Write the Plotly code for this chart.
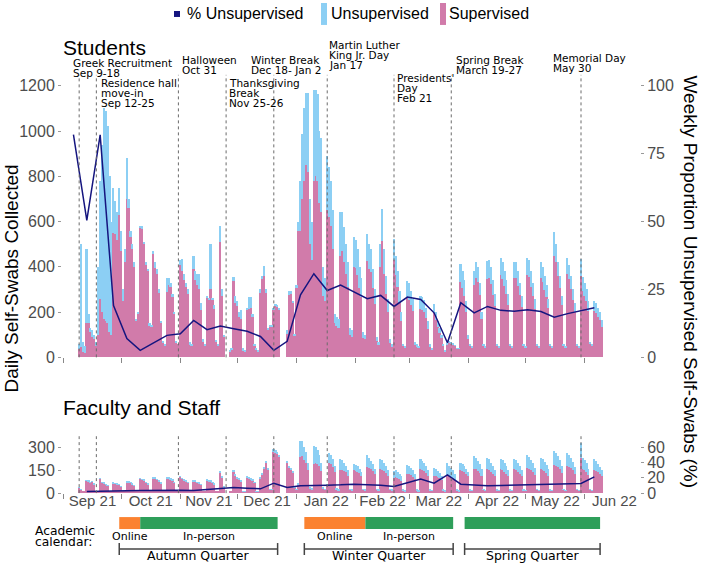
import plotly.graph_objects as go
import pandas as pd

# ---------------- data ----------------
DAY_FIRST = "2021-09-09"
DAY_LAST = "2022-06-10"
WEEK_FIRST = "2021-09-06"

# Students, daily, grouped by week (Mon..Sun); first week starts Thu Sep 9
STU_SUP = [
    [35, 45, 25, 20],
    [150, 150, 110, 90, 80, 50, 100],
    [260, 200, 170, 160, 150, 110, 100],
    [550, 545, 520, 630, 470, 250, 420],
    [700, 660, 530, 480, 400, 165, 190],
    [574, 565, 500, 410, 380, 140, 135],
    [455, 395, 370, 285, 150, 65, 55],
    [290, 320, 310, 265, 190, 65, 60],
    [410, 380, 340, 310, 280, 55, 50],
    [390, 340, 320, 300, 210, 70, 50],
    [265, 255, 300, 255, 215, 70, 55],
    [508, 270, 90, 0, 0, 28, 35],
    [339, 240, 225, 180, 170, 33, 25],
    [214, 215, 220, 180, 55, 35, 28],
    [285, 345, 360, 285, 125, 135, 135],
    [210, 230, 225, 214, 0, 0, 0],
    [105, 275, 280, 240, 95, 305, 560],
    [560, 700, 780, 850, 820, 500, 430],
    [780, 800, 780, 680, 640, 270, 250],
    [650, 620, 580, 480, 150, 140, 130],
    [450, 470, 420, 370, 310, 100, 90],
    [400, 395, 365, 305, 265, 85, 80],
    [425, 390, 375, 305, 235, 72, 56],
    [400, 515, 370, 280, 200, 62, 47],
    [430, 365, 310, 240, 160, 50, 40],
    [265, 255, 230, 205, 55, 47, 40],
    [212, 208, 200, 172, 126, 47, 31],
    [196, 167, 134, 109, 84, 50, 25],
    [57, 66, 61, 57, 52, 38, 38],
    [331, 305, 270, 200, 80, 48, 40],
    [320, 350, 335, 275, 168, 50, 42],
    [347, 350, 325, 276, 228, 49, 40],
    [365, 347, 314, 281, 232, 50, 41],
    [349, 349, 315, 274, 224, 50, 41],
    [364, 355, 313, 272, 214, 50, 41],
    [349, 332, 299, 266, 216, 50, 42],
    [450, 420, 358, 307, 230, 51, 43],
    [370, 344, 302, 252, 201, 50, 42],
    [359, 295, 273, 248, 207, 58, 50],
    [205, 196, 180, 163, 134],
]
STU_UNS = [
    [25, 455, 45, 30],
    [330, 40, 20, 30, 20, 20, 300],
    [520, 740, 930, 930, 870, 690, 500],
    [200, 145, 120, 120, 90, 50, 60],
    [180, 40, 30, 20, 20, 5, 10],
    [6, 15, 10, 10, 10, 10, 5],
    [15, 25, 20, 15, 10, 5, 5],
    [60, 30, 20, 15, 10, 5, 0],
    [20, 55, 30, 20, 20, 15, 10],
    [60, 40, 48, 68, 30, 10, 10],
    [5, 5, 200, 5, 15, 5, 5],
    [74, 30, 10, 0, 0, 2, 5],
    [15, 30, 25, 20, 40, 7, 5],
    [6, 50, 45, 10, 5, 5, 2],
    [15, 15, 45, 15, 5, 5, 5],
    [5, 7, 5, 6, 0, 0, 0],
    [15, 17, 12, 10, 5, 15, 40],
    [220, 285, 320, 320, 350, 200, 170],
    [400, 380, 385, 320, 330, 130, 100],
    [240, 220, 200, 170, 40, 40, 40],
    [191, 171, 154, 130, 110, 30, 30],
    [130, 125, 115, 95, 85, 25, 20],
    [120, 110, 105, 85, 65, 18, 14],
    [100, 140, 110, 80, 60, 18, 13],
    [93, 85, 70, 55, 40, 10, 10],
    [74, 75, 65, 55, 15, 13, 10],
    [58, 57, 55, 48, 34, 13, 9],
    [38, 33, 26, 21, 16, 10, 5],
    [3, 4, 4, 3, 3, 2, 2],
    [81, 75, 70, 50, 20, 12, 10],
    [63, 70, 65, 55, 32, 10, 8],
    [80, 80, 75, 64, 52, 11, 10],
    [76, 73, 66, 59, 48, 10, 9],
    [71, 71, 65, 56, 46, 10, 9],
    [77, 75, 67, 58, 46, 10, 9],
    [71, 68, 61, 54, 44, 10, 8],
    [102, 80, 62, 53, 40, 9, 7],
    [71, 66, 58, 48, 39, 10, 8],
    [75, 62, 57, 52, 43, 12, 10],
    [46, 44, 40, 37, 29],
]
# Faculty and staff, daily, same layout
FAC_SUP = [
    [35, 24, 8, 6],
    [78, 76, 68, 73, 58, 10, 8],
    [93, 68, 63, 53, 47, 10, 8],
    [63, 61, 58, 53, 44, 8, 6],
    [71, 69, 68, 58, 48, 8, 6],
    [92, 86, 82, 67, 58, 10, 8],
    [95, 93, 86, 77, 62, 10, 8],
    [97, 95, 88, 81, 67, 10, 8],
    [104, 91, 84, 77, 67, 10, 8],
    [77, 75, 67, 62, 53, 8, 6],
    [81, 76, 74, 67, 57, 10, 8],
    [135, 102, 38, 0, 0, 8, 10],
    [138, 111, 97, 88, 75, 11, 9],
    [102, 93, 88, 79, 66, 11, 9],
    [94, 122, 160, 198, 151, 19, 19],
    [270, 262, 253, 235, 0, 0, 0],
    [195, 168, 150, 131, 37, 19, 56],
    [235, 240, 215, 200, 150, 30, 22],
    [190, 200, 190, 175, 145, 26, 20],
    [45, 200, 190, 170, 140, 24, 16],
    [150, 150, 145, 135, 115, 20, 16],
    [148, 145, 140, 130, 115, 20, 16],
    [170, 165, 155, 142, 122, 20, 16],
    [157, 152, 145, 133, 113, 20, 16],
    [102, 108, 102, 92, 82, 16, 12],
    [124, 122, 117, 108, 92, 16, 12],
    [157, 150, 142, 130, 113, 18, 14],
    [113, 110, 105, 96, 86, 16, 12],
    [117, 112, 105, 97, 84, 16, 12],
    [148, 146, 137, 127, 109, 18, 13],
    [160, 155, 145, 133, 115, 20, 14],
    [155, 150, 140, 128, 110, 18, 13],
    [155, 150, 140, 128, 110, 18, 13],
    [155, 150, 140, 128, 110, 18, 13],
    [165, 160, 150, 138, 120, 19, 14],
    [158, 153, 145, 133, 113, 18, 13],
    [185, 178, 168, 155, 132, 20, 14],
    [178, 172, 162, 148, 125, 20, 14],
    [230, 160, 152, 140, 118, 20, 14],
    [150, 145, 135, 125, 112],
]
FAC_UNS = [
    [2, 1, 0, 0],
    [2, 2, 2, 2, 2, 0, 0],
    [3, 2, 2, 2, 1, 0, 0],
    [2, 2, 2, 2, 1, 0, 0],
    [3, 3, 2, 2, 2, 0, 0],
    [4, 4, 3, 3, 2, 0, 0],
    [5, 5, 4, 3, 3, 0, 0],
    [5, 5, 4, 4, 3, 0, 0],
    [5, 4, 4, 3, 3, 0, 0],
    [3, 3, 3, 3, 2, 0, 0],
    [4, 4, 4, 3, 3, 0, 0],
    [11, 8, 2, 0, 0, 0, 0],
    [12, 9, 8, 7, 5, 1, 1],
    [8, 7, 7, 6, 4, 1, 1],
    [6, 8, 10, 12, 9, 1, 1],
    [20, 18, 17, 15, 0, 0, 0],
    [15, 12, 10, 9, 3, 1, 4],
    [106, 101, 85, 70, 50, 10, 8],
    [119, 100, 90, 75, 55, 9, 5],
    [15, 65, 60, 50, 40, 6, 4],
    [72, 65, 55, 45, 35, 5, 4],
    [41, 40, 35, 30, 25, 5, 4],
    [77, 65, 55, 48, 38, 5, 4],
    [69, 63, 55, 47, 37, 5, 4],
    [44, 42, 38, 33, 28, 4, 3],
    [59, 53, 48, 42, 33, 4, 3],
    [69, 60, 53, 45, 37, 4, 4],
    [48, 45, 40, 34, 29, 4, 3],
    [77, 68, 60, 53, 41, 4, 3],
    [46, 44, 38, 33, 26, 4, 3],
    [83, 75, 65, 57, 45, 5, 4],
    [75, 70, 60, 52, 40, 4, 3],
    [71, 65, 60, 52, 40, 4, 3],
    [71, 65, 60, 52, 40, 4, 3],
    [82, 75, 65, 57, 45, 5, 4],
    [74, 67, 60, 52, 42, 4, 3],
    [91, 82, 72, 60, 48, 5, 4],
    [87, 78, 68, 57, 45, 5, 4],
    [100, 70, 63, 55, 42, 5, 4],
    [72, 65, 55, 45, 38],
]

# Weekly proportion unsupervised (%), one value per week (week starting Monday)
STU_PCT = [82, 50.4, 81.9, 19.1, 6.9, 2.6, 5.3, 8.1, 8.7, 13.6, 10.2, 11.5, 10.5, 9.6,
           7.7, 2.6, 5.9, 23.0, 30.8, 24.6, 26.6, 24.0, 21.6, 22.8, 18.75, 22.2, 21.3,
           16.4, 5.4, 20.1, 16.4, 18.75, 17.3, 17.0, 17.5, 16.9, 14.8, 16.1, 17.3, 18.3]
FAC_PCT = [2.2, 2.2, 2.6, 3.0, 3.5, 3.9, 3.9, 3.9, 3.5, 4.8, 6.5, 7.4, 6.5, 5.6, 13.0,
           7.5, 9.6, 10.4, 10.4, 10.8, 11.7, 10.9, 10.4, 8.7, 13.5, 18.3, 13.0, 23.9,
           11.7, 10.4, 9.6, 10.0, 10.4, 10.9, 11.3, 11.7, 11.9, 12.6, 21.3]
FAC_PCT_FIRST_WEEK = "2021-09-13"

# Events
EVENT_DATES = ["2021-09-09", "2021-09-18", "2021-10-31", "2021-11-25", "2021-12-20",
               "2022-01-17", "2022-02-21", "2022-03-23", "2022-05-30"]
EVENT_LABELS = [
    ["Greek Recruitment", "Sep 9-18"],
    ["Residence hall", "move-in", "Sep 12-25"],
    ["Halloween", "Oct 31"],
    ["Thanksgiving", "Break", "Nov 25-26"],
    ["Winter Break", "Dec 18- Jan 2"],
    ["Martin Luther", "King Jr. Day", "Jan 17"],
    ["Presidents'", "Day", "Feb 21"],
    ["Spring Break", "March 19-27"],
    ["Memorial Day", "May 30"],
]
# label placement (left pixel, top-line pixel)
EVENT_LABEL_POS = [(71, 63), (98.5, 83.5), (180, 60), (227, 83.5), (248.5, 60),
                   (326.5, 45), (394.5, 78.5), (453.5, 60.5), (551, 58)]

# Academic calendar
CAL_START = ["2021-09-30", "2021-10-11", "2022-01-05", "2022-02-06", "2022-03-30"]
CAL_END = ["2021-10-11", "2021-12-22", "2022-02-06", "2022-03-24", "2022-06-09"]
CAL_MODE = ["Online", "In-person", "Online", "In-person", "In-person"]
CAL_SHOW_LABEL = [True, True, True, True, False]
QUARTERS = ["Autumn Quarter", "Winter Quarter", "Spring Quarter"]
Q_START = ["2021-09-30", "2022-01-05", "2022-03-30"]
Q_END = ["2021-12-22", "2022-03-24", "2022-06-09"]

# ---------------- styling ----------------
PINK = "#D17BAA"
BLUE = "#8CCFF4"
NAVY = "#15157F"
ORANGE = "#FB8230"
GREEN = "#2E9F5A"
TICKGREY = "#4D4D4D"
SANS = "Liberation Sans, Arial, sans-serif"
VERD = "DejaVu Sans, Verdana, sans-serif"

W, H = 702, 563          # reference pixel frame
H_LAYOUT = 571           # page height used by the browser frame
ML, MR = 62, 62


def px(x):
    return (x - ML) / (W - ML - MR)


def py(y):
    return 1 - y / H


def flat(weeks):
    return [v for wk in weeks for v in wk]


days = pd.date_range(DAY_FIRST, DAY_LAST, freq="D")
weeks_stu = pd.date_range(WEEK_FIRST, periods=len(STU_PCT), freq="7D")
weeks_fac = pd.date_range(FAC_PCT_FIRST_WEEK, periods=len(FAC_PCT), freq="7D")

X_RANGE = ["2021-08-31", "2022-06-29 22:00"]

fig = go.Figure()
fig.add_trace(go.Bar(x=days, y=flat(STU_SUP), marker=dict(color=PINK, line=dict(width=0)),
                     name="Supervised", xaxis="x", yaxis="y", showlegend=False))
fig.add_trace(go.Bar(x=days, y=flat(STU_UNS), marker=dict(color=BLUE, line=dict(width=0)),
                     name="Unsupervised", xaxis="x", yaxis="y", showlegend=False))
fig.add_trace(go.Scatter(x=weeks_stu, y=STU_PCT, mode="lines", line=dict(color=NAVY, width=1.5),
                         name="% Unsupervised", xaxis="x", yaxis="y3", showlegend=False))
fig.add_trace(go.Bar(x=days, y=flat(FAC_SUP), marker=dict(color=PINK, line=dict(width=0)),
                     xaxis="x2", yaxis="y2", showlegend=False))
fig.add_trace(go.Bar(x=days, y=flat(FAC_UNS), marker=dict(color=BLUE, line=dict(width=0)),
                     xaxis="x2", yaxis="y2", showlegend=False))
fig.add_trace(go.Scatter(x=weeks_fac, y=FAC_PCT, mode="lines", line=dict(color=NAVY, width=1.5),
                         xaxis="x2", yaxis="y4", showlegend=False))

tickfont = dict(family=SANS, size=16, color=TICKGREY)
xcommon = dict(range=X_RANGE, type="date", dtick="M1", tick0="2021-09-01", ticks="outside",
               ticklen=5, tickcolor="#888", tickwidth=1, showgrid=False, zeroline=False,
               showline=False)
fig.update_layout(
    width=W, height=H_LAYOUT, margin=dict(l=ML, r=MR, t=0, b=0),
    paper_bgcolor="white", plot_bgcolor="white",
    barmode="stack", bargap=0.12,
    xaxis=dict(**xcommon, domain=[0, 1], anchor="y", showticklabels=False),
    xaxis2=dict(**xcommon, domain=[0, 1], anchor="y2", showticklabels=True,
                ticklabelmode="period", tickformat="%b %y", ticklabelstandoff=-11,
                tickfont=dict(family=SANS, size=15, color=TICKGREY)),
    yaxis=dict(domain=[py(358), py(75)], range=[0, 1248], anchor="x",
               tickvals=[0, 200, 400, 600, 800, 1000, 1200], ticks="outside", ticklen=3,
               tickcolor="#999", tickfont=tickfont, showgrid=False, zeroline=False),
    yaxis3=dict(overlaying="y", side="right", anchor="x", range=[0, 104],
                tickvals=[0, 25, 50, 75, 100], ticks="outside", ticklen=3, tickcolor="#999",
                tickfont=tickfont, showgrid=False, zeroline=False),
    yaxis2=dict(domain=[py(494), py(437)], range=[0, 372], anchor="x2",
                tickvals=[0, 150, 300], ticks="outside", ticklen=3, tickcolor="#999",
                tickfont=tickfont, showgrid=False, zeroline=False),
    yaxis4=dict(overlaying="y2", side="right", anchor="x2", range=[0, 74.4],
                tickvals=[0, 20, 40, 60], ticks="outside", ticklen=3, tickcolor="#999",
                tickfont=tickfont, showgrid=False, zeroline=False),
)

shapes = []
ann = []
# event lines
for d in EVENT_DATES:
    for xr, yr in (("x", "y domain"), ("x2", "y2 domain")):
        shapes.append(dict(type="line", xref=xr, yref=yr, x0=d, x1=d, y0=0, y1=1,
                           line=dict(color="#6b6b6b", width=1, dash="3px,3px"), layer="above"))
# event labels
for lines, (lx, ly) in zip(EVENT_LABELS, EVENT_LABEL_POS):
    for i, t in enumerate(lines):
        ann.append(dict(text=t, xref="paper", yref="paper", x=px(lx), y=py(ly + i * 10),
                        xanchor="left", yanchor="middle", showarrow=False,
                        font=dict(family=VERD, size=10.5, color="black")))

# panel titles
ann.append(dict(text="Students", xref="paper", yref="paper", x=px(61), y=py(48), xanchor="left",
                yanchor="middle", showarrow=False, font=dict(family=SANS, size=21, color="black")))
ann.append(dict(text="Faculty and Staff", xref="paper", yref="paper", x=px(61), y=py(408),
                xanchor="left", yanchor="middle", showarrow=False,
                font=dict(family=SANS, size=21, color="black")))
# axis titles
ann.append(dict(text="Daily Self-Swabs Collected", xref="paper", yref="paper", x=px(12), y=py(279),
                xanchor="center", yanchor="middle", textangle=-90, showarrow=False,
                font=dict(family=SANS, size=19, color="black")))
ann.append(dict(text="Weekly Proportion Unsupervised Self-Swabs (%)", xref="paper", yref="paper",
                x=px(691), y=py(282), xanchor="center", yanchor="middle", textangle=90,
                showarrow=False, font=dict(family=SANS, size=19, color="black")))

# legend (manual)
shapes.append(dict(type="rect", xref="paper", yref="paper", x0=px(174), x1=px(180), y0=py(17), y1=py(11),
                   fillcolor=NAVY, line=dict(width=0)))
ann.append(dict(text="% Unsupervised", xref="paper", yref="paper", x=px(185), y=py(14),
                xanchor="left", yanchor="middle", showarrow=False,
                font=dict(family=SANS, size=16, color="black")))
shapes.append(dict(type="rect", xref="paper", yref="paper", x0=px(321), x1=px(327), y0=py(25), y1=py(3),
                   fillcolor=BLUE, line=dict(width=0)))
ann.append(dict(text="Unsupervised", xref="paper", yref="paper", x=px(329), y=py(14),
                xanchor="left", yanchor="middle", showarrow=False,
                font=dict(family=SANS, size=16, color="black")))
shapes.append(dict(type="rect", xref="paper", yref="paper", x0=px(440), x1=px(446), y0=py(25), y1=py(3),
                   fillcolor=PINK, line=dict(width=0)))
ann.append(dict(text="Supervised", xref="paper", yref="paper", x=px(447), y=py(14),
                xanchor="left", yanchor="middle", showarrow=False,
                font=dict(family=SANS, size=16, color="black")))

# academic calendar
for s, e, mode, show in zip(CAL_START, CAL_END, CAL_MODE, CAL_SHOW_LABEL):
    shapes.append(dict(type="rect", xref="x2", yref="paper", x0=s, x1=e, y0=py(530), y1=py(518),
                       fillcolor=ORANGE if mode == "Online" else GREEN, line=dict(width=0)))
    if show:
        mid = pd.Timestamp(s) + (pd.Timestamp(e) - pd.Timestamp(s)) / 2
        ann.append(dict(text=mode, xref="x2", yref="paper", x=mid, y=py(537), xanchor="center",
                        yanchor="middle", showarrow=False,
                        font=dict(family=VERD, size=11, color="black")))
for q, s, e in zip(QUARTERS, Q_START, Q_END):
    shapes.append(dict(type="line", xref="x2", yref="paper", x0=s, x1=e, y0=py(550), y1=py(550),
                       line=dict(color="#444", width=1.5)))
    for d in (s, e):
        shapes.append(dict(type="line", xref="x2", yref="paper", x0=d, x1=d, y0=py(544), y1=py(556),
                           line=dict(color="#444", width=1.5)))
    mid = pd.Timestamp(s) + (pd.Timestamp(e) - pd.Timestamp(s)) / 2
    ann.append(dict(text=q, xref="x2", yref="paper", x=mid, y=py(556), xanchor="center",
                    yanchor="middle", showarrow=False,
                    font=dict(family=VERD, size=12.5, color="black")))
ann.append(dict(text="Academic", xref="paper", yref="paper", x=px(33), y=py(532), xanchor="left",
                yanchor="middle", showarrow=False, font=dict(family=VERD, size=12.3, color="black")))
ann.append(dict(text="calendar:", xref="paper", yref="paper", x=px(33), y=py(543), xanchor="left",
                yanchor="middle", showarrow=False, font=dict(family=VERD, size=12.3, color="black")))

fig.update_layout(shapes=shapes, annotations=ann)
POST = "document.documentElement.style.margin='0px';document.body.style.margin='0px';"
fig.write_html("out.html", config={"displayModeBar": False}, post_script=POST)
